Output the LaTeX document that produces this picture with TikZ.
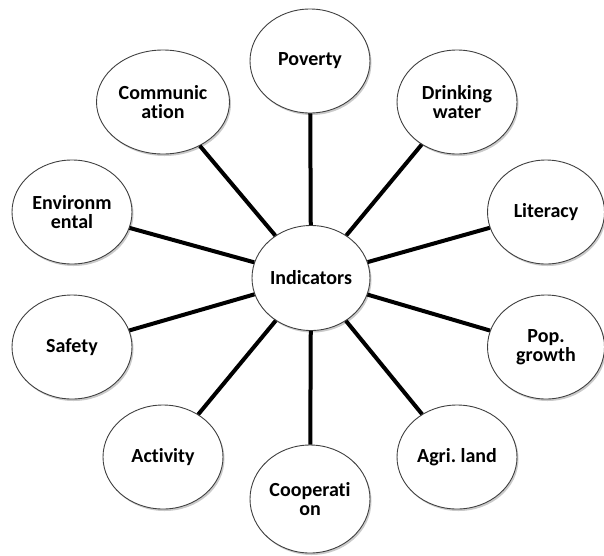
\documentclass[tikz,border=0pt]{standalone}
\usepackage{fontspec}
\setmainfont{Carlito}[Ligatures=NoCommon]
\usetikzlibrary{shapes.geometric}
\usetikzlibrary{shadows}
\frenchspacing

\begin{document}
\begin{tikzpicture}[x=1pt, y=-1pt,
  bubble/.style={ellipse, draw=black!75, line width=0.9pt, fill=white,
    minimum width=120pt, minimum height=104pt, inner sep=0pt, align=center,
    font=\fontsize{20}{19}\selectfont\bfseries,
    drop shadow={shadow xshift=1.5pt, shadow yshift=-2pt, opacity=0.35, fill=black!60}},
  spoke/.style={line width=4pt, black}]

\useasboundingbox (0,0) rectangle (604,555);

% outer ring
\node[bubble] (poverty) at (310,61) {Poverty};
\node[bubble] (water) at (457,102) {Drinking\\water};
\node[bubble, minimum width=117pt] (literacy) at (546,212) {Literacy};
\node[bubble, minimum width=117pt] (growth) at (546,347) {Pop.\\growth};
\node[bubble] (land) at (457,457) {Agri. land};
\node[bubble, minimum height=108pt] (coop) at (310,499) {Cooperati\\on};
\node[bubble] (activity) at (163,457) {Activity};
\node[bubble] (safety) at (72,347) {Safety};
\node[bubble] (environ) at (72,212) {Environm\\ental};
\node[bubble, minimum width=133pt] (comm) at (163,102) {Communic\\ation};

% hub
\node[bubble, minimum width=118pt, minimum height=105pt] (hub) at (311,278) {Indicators};

\foreach \n in {poverty, water, literacy, growth, land, coop, activity, safety, environ, comm}
  \draw[spoke] (hub) -- (\n);

\end{tikzpicture}
\end{document}
